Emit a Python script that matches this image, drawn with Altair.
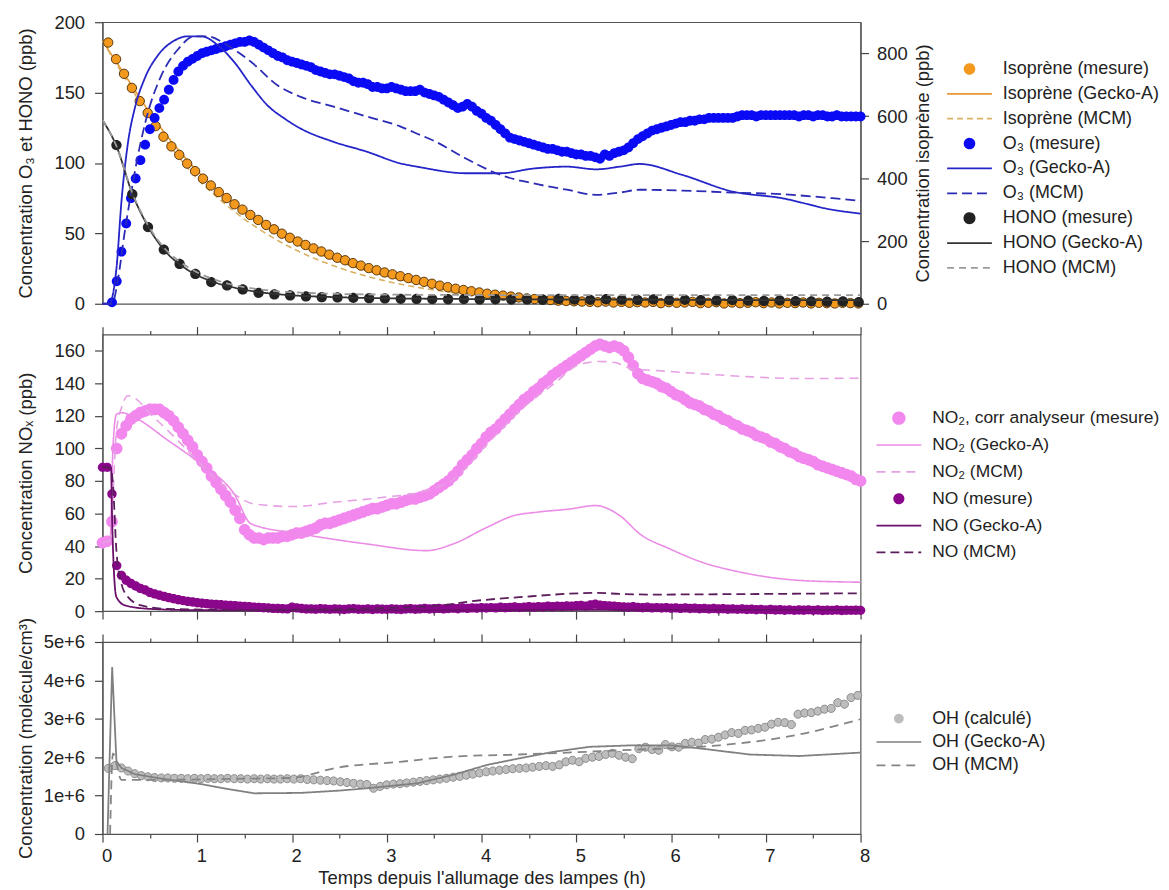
import altair as alt
import pandas as pd

FONT = "Liberation Sans"

# ---------------- time axis ticks ----------------
MAJOR_TICKS = [0, 1, 2, 3, 4, 5, 6, 7, 8]
MINOR_TICKS = [0.5, 1.5, 2.5, 3.5, 4.5, 5.5, 6.5, 7.5]

# ---------------- panel 1 : isoprene (right axis, ppb) ----------------
ISO_MEAS_T = [round(0.06 + k / 12, 3) for k in range(96)]
ISO_MEAS_V = [835, 782, 735, 690, 648, 610, 568, 534, 503, 476,
              448, 424, 400, 378, 357, 338, 318, 301, 284, 268,
              252, 238, 224, 211, 199, 188, 177, 167, 157, 147,
              139, 130, 122, 114, 107, 100, 94, 88, 82, 76,
              70, 64, 58, 53, 48, 44, 40, 36, 32, 29,
              26, 23, 20, 17, 15, 13, 12, 10, 9, 8,
              7, 6, 5, 7, 4, 6, 3, 5, 4, 6,
              2, 5, 3, 4, 6, 2, 3, 5, 1, 4,
              2, 3, 5, 2, 4, 1, 3, 2, 4, 1,
              3, 2, 1, 3, 2, 1]
ISO_MODEL_T = [0, 0.25, 0.5, 0.75, 1, 1.25, 1.5, 1.75, 2, 2.5, 3, 3.5, 4, 4.5, 5, 6, 7, 8]
ISO_GECKO_V = [840, 725, 610, 510, 425, 355, 295, 245, 200, 135, 88, 55, 32, 18, 10, 4, 2, 1]
ISO_MCM_V = [840, 715, 595, 490, 400, 330, 270, 220, 178, 115, 72, 44, 26, 14, 8, 3, 1, 0.5]

# ---------------- panel 1 : O3 and HONO (left axis, ppb) ----------------
O3_MEAS_T = [round(0.10 + 0.05 * k, 2) for k in range(159)]
O3_MEAS_V = [1, 16, 37, 57, 75, 89, 102, 113, 124, 132,
             139, 145, 152, 159, 165, 169, 172, 174, 176, 178,
             179, 180, 181, 182, 183, 184, 185, 186, 186, 187,
             186, 184, 182, 180, 178, 176, 175, 173, 172, 171,
             170, 169, 168, 166, 165, 164, 163, 163, 162, 161,
             160, 158, 157, 157, 156, 154, 154, 153, 153, 154,
             153, 152, 151, 151, 151, 152, 150, 149, 148, 147,
             145, 143, 141, 139, 140, 142, 140, 137, 135, 132,
             130, 127, 124, 121, 118, 117, 116, 115, 114, 113,
             112, 111, 110, 110, 109, 108, 108, 107, 106, 106,
             105, 105, 104, 103, 106, 105, 107, 108, 109, 111,
             114, 117, 119, 121, 123, 124, 125, 126, 127, 128,
             129, 129, 130, 130, 131, 131, 132, 132, 132, 132,
             132, 132, 133, 134, 134, 134, 133, 134, 134, 134,
             134, 134, 134, 134, 134, 133, 134, 134, 133, 134,
             134, 133, 133, 134, 133, 133, 133, 133, 133]
O3_GECKO_T = [0, 0.07, 0.147, 0.2, 0.27, 0.34, 0.445, 0.585, 0.76, 0.9,
              1.04, 1.22, 1.39, 1.57, 1.74, 1.92, 2.09, 2.44, 2.79, 3.14,
              3.35, 3.84, 4.2, 4.54, 4.9, 5.21, 5.46, 5.67, 6.12, 6.65,
              7.17, 7.7, 8.0]
O3_GECKO_V = [0, 0, 25, 72.7, 115, 138.7, 160, 176.5, 187, 190,
              190, 183.5, 171.7, 155, 141, 131.6, 124.5, 115, 108, 99.8,
              97, 92.7, 92.7, 96, 97.4, 95.5, 97.4, 99.3, 91.5, 79.7,
              75, 66.8, 64]
O3_MCM_T = [0, 0.1, 0.165, 0.23, 0.305, 0.375, 0.48, 0.62, 0.8, 0.97,
            1.11, 1.32, 1.57, 1.85, 2.09, 2.44, 2.79, 3.14, 3.35, 3.49,
            3.84, 4.2, 4.54, 4.9, 5.21, 5.46, 5.67, 6.12, 6.65, 7.17,
            7.7, 8.0]
O3_MCM_V = [0, 0, 18, 49, 80, 105.7, 136, 162, 181, 190,
            190, 183.5, 171.7, 155, 147, 140, 133, 126, 120, 116,
            103, 91.5, 85.6, 81, 77.4, 79, 81, 80.4, 79, 77.8,
            75, 73]
HONO_MEAS_T = [round(0.147 + k / 6, 3) for k in range(48)]
HONO_MEAS_V = [112.7, 77.8, 54.5, 38.5, 28.3, 21.2, 15.4, 13.0, 10.2, 7.8,
               6.6, 5.9, 5.2, 4.7, 4.5, 4.2, 4.0, 3.8,
               3.5, 3.4, 3.3, 3.2, 3.3, 3.1, 3.2, 3.0, 3.1, 2.9,
               3.4, 3.0, 2.8, 3.2, 2.9, 2.7, 3.1, 2.6, 2.8, 2.5,
               2.3, 2.6, 2.2, 2.0, 2.3, 1.9, 1.7, 1.5, 1.6, 1.2]
HONO_MODEL_T = [0, 0.147, 0.313, 0.48, 0.647, 0.813, 0.98, 1.147, 1.313, 1.48,
                1.647, 1.813, 2.0, 2.5, 3, 4, 5, 6, 7, 8]
HONO_GECKO_V = [130.5, 112, 78.5, 55, 38.5, 28, 21, 16, 12.7, 10.2,
                8.3, 7, 6, 4.6, 3.9, 3.3, 3, 2.8, 2.6, 2.5]
HONO_MCM_V = [130.5, 112, 79, 56, 40, 30, 23, 18, 14.5, 12,
              10.3, 9, 8.2, 7, 6.5, 6.2, 6.1, 6.1, 6.1, 6.1]

# ---------------- panel 2 : NOx (ppb) ----------------
NOX_MEAS_T = [round(0.05 * k, 2) for k in range(161)]
NO2_MEAS_V = [42, 43, 55, 100, 109, 114, 118, 120, 122, 123,
              124, 124, 124, 122, 120, 117, 113, 109, 105, 101,
              96, 92, 88, 83, 79, 75, 71, 67, 62, 57,
              50, 47, 45, 45, 44, 45, 45, 45, 46, 46,
              47, 48, 48, 49, 50, 51, 53, 54, 54, 55,
              56, 57, 58, 59, 60, 61, 62, 63, 63, 64,
              65, 66, 66, 67, 68, 69, 69, 70, 71, 72,
              74, 76, 78, 80, 83, 86, 90, 93, 96, 100,
              103, 107, 110, 112, 115, 118, 121, 124, 127, 130,
              132, 135, 137, 140, 142, 145, 147, 149, 151, 153,
              155, 157, 159, 161, 163, 164, 163, 162, 163, 162,
              160, 156, 151, 146, 143, 142, 141, 140, 138, 137,
              135, 133, 132, 130, 128, 127, 126, 124, 123, 121,
              120, 118, 117, 115, 114, 112, 111, 110, 108, 107,
              106, 104, 103, 101, 100, 98, 97, 95, 94, 93,
              92, 90, 89, 88, 87, 86, 85, 84, 83, 81,
              80]
NO_MEAS_V = [88.4, 88.4, 72, 28, 22, 19, 17, 15.5, 14, 13,
             11.5, 10.6, 9.8, 9, 8.3, 7.6, 7, 6.5, 6, 5.6,
             5.2, 4.9, 4.6, 4.3, 4.1, 3.9, 3.7, 3.5, 3.3, 3.1,
             2.9, 2.7, 2.5, 2.3, 2.1, 1.9, 1.7, 1.6, 1.5, 1.4,
             2.5, 2.0, 1.6, 1.3, 1.4, 1.2, 1.5, 1.3, 1.1, 1.4,
             1.2, 1.0, 1.3, 1.5, 1.2, 1.1, 1.4, 1.0, 1.3, 1.2,
             1.1, 1.4, 1.2, 1.0, 1.3, 1.5, 1.2, 1.4, 1.6, 1.3,
             1.5, 1.7, 1.4, 1.6, 1.8, 1.5, 1.9, 1.7, 2.0, 1.8,
             2.1, 1.9, 2.2, 2.0, 2.4, 2.1, 2.3, 2.6, 2.2, 2.5,
             2.7, 2.4, 2.8, 2.6, 3.0, 2.7, 3.1, 2.9, 3.2, 3.0,
             3.3, 3.5, 3.1, 3.8, 4.2, 3.6, 3.4, 3.2, 3.0, 2.8,
             2.6, 2.4, 2.7, 2.3, 2.1, 2.4, 2.0, 2.2, 1.9, 2.1,
             1.8, 2.0, 1.7, 1.9, 1.6, 1.8, 1.5, 1.7, 1.4, 1.6,
             1.3, 1.5, 1.2, 1.4, 1.1, 1.3, 1.0, 1.2, 0.9, 1.1,
             0.8, 1.0, 0.7, 0.9, 0.6, 0.8, 0.5, 0.7, 0.6, 0.8,
             0.5, 0.7, 0.4, 0.6, 0.5, 0.7, 0.4, 0.6, 0.5, 0.6,
             0.5]
NO2_GECKO_T = [0, 0.08, 0.11, 0.147, 0.2, 0.34, 0.69, 1.04, 1.39, 1.57,
               2.09, 2.79, 3.42, 3.7, 4.06, 4.34, 4.58, 4.93, 5.2, 5.46,
               5.67, 5.99, 6.33, 6.68, 7.03, 7.38, 8.0]
NO2_GECKO_V = [42, 44, 100, 121, 122, 119, 105, 90.4, 72, 53.6,
               47.5, 41.3, 37.2, 41.3, 51.6, 58.7, 60.8, 62.8, 64.9, 58.7,
               47.5, 38.2, 30, 24.6, 20.9, 18.8, 17.8]
NO2_MCM_T = [0, 0.09, 0.11, 0.147, 0.2, 0.27, 0.34, 0.51, 0.69, 0.9,
             1.18, 1.39, 1.6, 2.02, 2.44, 2.97, 3.42, 3.7, 4.06, 4.4,
             4.76, 5.04, 5.25, 5.41, 5.6, 5.81, 6.3, 6.85, 7.35, 8.0]
NO2_MCM_V = [42, 44, 70, 111, 125, 132.4, 131, 121, 111, 98.6,
             82, 72, 65.9, 64.3, 66.9, 70, 74, 81, 102.7, 123,
             139.5, 151.8, 153.5, 152.8, 148.7, 148, 146, 144, 143, 143.2]
NO_GECKO_T = [0, 0.09, 0.1, 0.12, 0.147, 0.24, 0.5, 1, 2, 3, 4, 5, 6, 7, 8]
NO_GECKO_V = [88.5, 88, 60, 25, 8.6, 3.5, 1.4, 0.6, 0.5, 0.5, 0.6, 0.8, 0.8, 0.8, 0.8]
NO_MCM_T = [0, 0.09, 0.11, 0.147, 0.2, 0.27, 0.41, 0.69, 1.5, 2.5,
            3, 3.56, 3.88, 4.4, 5.21, 5.46, 5.81, 6.5, 8]
NO_MCM_V = [88.5, 88, 78, 37, 16.8, 8.6, 3.5, 1.4, 0.8, 1.2,
            2, 3.5, 6, 8.6, 11.2, 10.6, 10.2, 10.4, 11]

# ---------------- panel 3 : OH (units of 1e6 molecule/cm3) ----------------
OH_MEAS_T = [round(0.06 + 0.07 * k, 2) for k in range(114)]
OH_MEAS_V = [1.71, 1.78, 1.72, 1.64, 1.57, 1.52, 1.49, 1.47, 1.46, 1.46,
             1.45, 1.45, 1.44, 1.45, 1.44, 1.45, 1.44, 1.44, 1.45, 1.44,
             1.44, 1.43, 1.44, 1.43, 1.44, 1.43, 1.43, 1.44, 1.43, 1.44,
             1.42, 1.41, 1.40, 1.39, 1.38, 1.36, 1.34, 1.32, 1.30, 1.29,
             1.19, 1.24, 1.28, 1.30, 1.31, 1.33, 1.35, 1.37, 1.39, 1.41,
             1.43, 1.45, 1.48, 1.50, 1.53, 1.56, 1.59, 1.62, 1.64, 1.66,
             1.68, 1.70, 1.71, 1.72, 1.74, 1.76, 1.78, 1.76, 1.80, 1.88,
             1.92, 1.88, 1.97, 2.00, 2.02, 2.07, 2.10, 2.05, 2.00, 1.96,
             2.22, 2.26, 2.20, 2.18, 2.33, 2.27, 2.26, 2.36, 2.39, 2.37,
             2.46, 2.47, 2.52, 2.58, 2.64, 2.62, 2.70, 2.71, 2.75, 2.78,
             2.86, 2.91, 2.90, 2.85, 3.12, 3.15, 3.16, 3.20, 3.25, 3.27,
             3.42, 3.38, 3.55, 3.61]
OH_GECKO_T = [0.053, 0.102, 0.147, 0.2, 0.34, 0.6, 1.04, 1.3, 1.6, 2.09,
              2.5, 2.79, 3.32, 3.7, 4.06, 4.4, 4.76, 5.14, 5.6, 5.99,
              6.3, 6.83, 7.35, 8.0]
OH_GECKO_V = [0, 4.35, 1.9, 1.72, 1.56, 1.45, 1.30, 1.18, 1.06, 1.07,
              1.13, 1.19, 1.32, 1.54, 1.8, 1.97, 2.14, 2.27, 2.31, 2.31,
              2.23, 2.07, 2.03, 2.12]
OH_MCM_T = [0.08, 0.11, 0.2, 0.5, 1.0, 1.5, 2.0, 2.09, 2.44, 3.14,
            3.67, 4.4, 5.46, 6.51, 7.35, 8.0]
OH_MCM_V = [0, 2.1, 1.41, 1.41, 1.42, 1.44, 1.46, 1.49, 1.71, 1.88,
            2.01, 2.07, 2.18, 2.31, 2.59, 2.99]

# ---------------- series names / styles ----------------
P1_NAMES = ["Isoprène (mesure)", "Isoprène (Gecko-A)", "Isoprène (MCM)",
            "O₃ (mesure)", "O₃ (Gecko-A)", "O₃ (MCM)",
            "HONO (mesure)", "HONO (Gecko-A)", "HONO (MCM)"]
P1_COLORS = ["#F39A1E", "#E8962E", "#D9B062",
             "#0A0AF5", "#2424C8", "#2B2BB5",
             "#222222", "#333333", "#9A9A9A"]
P2_NAMES = ["NO₂, corr analyseur (mesure)", "NO₂ (Gecko-A)", "NO₂ (MCM)",
            "NO (mesure)", "NO (Gecko-A)", "NO (MCM)"]
P2_COLORS = ["#F287EE", "#EA8CE6", "#E6A0E3",
             "#8A068A", "#6A106A", "#5C1D5C"]
P3_NAMES = ["OH (calculé)", "OH (Gecko-A)", "OH (MCM)"]
P3_COLORS = ["#BDBDBD", "#808080", "#858585"]


def circ(r):
    return f"M{-r},0A{r},{r} 0 1,0 {r},0A{r},{r} 0 1,0 {-r},0Z"


SOLID = [1, 0]
P1_SHAPES = [circ(0.22), "stroke", "stroke", circ(0.22), "stroke", "stroke", circ(0.23), "stroke", "stroke"]
P1_DASH = [SOLID, SOLID, [6, 4], SOLID, SOLID, [10, 5], SOLID, SOLID, [7, 5]]
P2_SHAPES = [circ(0.26), "stroke", "stroke", circ(0.21), "stroke", "stroke"]
P2_DASH = [SOLID, SOLID, [9, 6], SOLID, SOLID, [9, 5]]
P3_SHAPES = [circ(0.18), "stroke", "stroke"]
P3_DASH = [SOLID, SOLID, [9, 6]]

LABEL_SIZE = 18.5
TITLE_SIZE = 18.5


def frame(t, v, name):
    return pd.DataFrame({"t": t, "v": v, "series": name})


# ---------------- helpers ----------------
def legend(x, y, row_pad, font_size):
    return alt.Legend(orient="none", legendX=x, legendY=y, title=None,
                      direction="vertical", columns=1, padding=0,
                      labelFont=FONT, labelFontSize=font_size, labelColor="#222",
                      labelLimit=400, labelOffset=10, symbolSize=2025,
                      symbolStrokeWidth=1.7, symbolOpacity=1,
                      clipHeight=20, rowPadding=row_pad)


def xenc(axis):
    return alt.X("t:Q", scale=alt.Scale(domain=[0, 8], nice=False, zero=False), axis=axis)


def xaxis(orient, minor=False, labels=False, title=None):
    if minor:
        return alt.Axis(orient=orient, values=MINOR_TICKS, labels=False, ticks=True,
                        tickSize=4, domain=False, grid=False, title=None)
    kw = dict(orient=orient, values=MAJOR_TICKS, labels=labels, ticks=True,
              tickSize=8, domain=False, grid=False, title=title)
    if labels:
        kw.update(format="d", labelPadding=5, labelFlush=False, labelOffset=4,
                  titlePadding=3)
    return alt.Axis(**kw)


def yaxis_left(values, title, label_expr=None):
    kw = dict(orient="left", values=values, title=title, tickSize=8, labelPadding=10,
              titlePadding=7, minExtent=60, grid=False, domain=True)
    if label_expr:
        kw["labelExpr"] = label_expr
    return alt.Axis(**kw)


def series_channels(names, colors, shapes, dashes, leg):
    color = alt.Color("series:N", scale=alt.Scale(domain=names, range=colors), legend=leg)
    shape = alt.Shape("series:N", scale=alt.Scale(domain=names, range=shapes), legend=leg)
    dash = alt.StrokeDash("series:N", scale=alt.Scale(domain=names, range=dashes), legend=leg)
    return color, shape, dash


W = 762

# ---------------- panel 1 ----------------
leg1 = legend(848, 37, 5, 18)
c1, s1, d1 = series_channels(P1_NAMES, P1_COLORS, P1_SHAPES, P1_DASH, leg1)

iso_lines = pd.concat([frame(ISO_MODEL_T, ISO_GECKO_V, P1_NAMES[1]),
                       frame(ISO_MODEL_T, ISO_MCM_V, P1_NAMES[2])])
iso_pts = frame(ISO_MEAS_T, ISO_MEAS_V, P1_NAMES[0])
left_lines = pd.concat([frame(O3_GECKO_T, O3_GECKO_V, P1_NAMES[4]),
                        frame(O3_MCM_T, O3_MCM_V, P1_NAMES[5]),
                        frame(HONO_MODEL_T, HONO_GECKO_V, P1_NAMES[7]),
                        frame(HONO_MODEL_T, HONO_MCM_V, P1_NAMES[8])])
left_pts = pd.concat([frame(O3_MEAS_T, O3_MEAS_V, P1_NAMES[3]),
                      frame(HONO_MEAS_T, HONO_MEAS_V, P1_NAMES[6])])

Y_LEFT1 = alt.Y("v:Q", scale=alt.Scale(domain=[0, 200], nice=False),
                axis=yaxis_left([0, 50, 100, 150, 200], "Concentration O₃ et HONO (ppb)"))
Y_RIGHT1 = alt.Y("v:Q", scale=alt.Scale(domain=[0, 900], nice=False),
                 axis=alt.Axis(orient="right", values=[0, 200, 400, 600, 800],
                               title="Concentration isoprène (ppb)", tickSize=8,
                               labelPadding=8, titlePadding=6, titleAngle=270,
                               titleBaseline="top", grid=False, domain=True))

r_pts = alt.Chart(iso_pts).mark_point(
    filled=True, fill="#F39A1E", stroke="#4A2C08", strokeWidth=0.9,
    size=2025, opacity=1, shape=circ(0.21)
).encode(x=xenc(None), y=Y_RIGHT1)

r_lines = alt.Chart(iso_lines).mark_line(strokeWidth=1.6, interpolate="monotone").encode(
    x=xenc(xaxis("bottom", minor=True)), y=Y_RIGHT1, color=c1, strokeDash=d1)

l_pts = alt.Chart(left_pts).mark_point(filled=True, size=2025, opacity=1).encode(
    x=xenc(None), y=Y_LEFT1, color=c1, shape=s1)

l_lines = alt.Chart(left_lines).mark_line(strokeWidth=1.8, interpolate="monotone").encode(
    x=xenc(xaxis("bottom")), y=Y_LEFT1, color=c1, strokeDash=d1)

right_grp = alt.layer(r_lines, r_pts)
left_grp = alt.layer(l_pts, l_lines)
panel1 = alt.layer(right_grp, left_grp).resolve_scale(y="independent").resolve_axis(
    x="independent").properties(width=W, height=283)

# ---------------- panel 2 ----------------
leg2 = legend(777, 74, 7, 17.5)
c2, s2, d2 = series_channels(P2_NAMES, P2_COLORS, P2_SHAPES, P2_DASH, leg2)
Y2 = alt.Y("v:Q", scale=alt.Scale(domain=[0, 170], nice=False),
           axis=yaxis_left([0, 20, 40, 60, 80, 100, 120, 140, 160], "Concentration NOₓ (ppb)"))

no2_pts = frame(NOX_MEAS_T, NO2_MEAS_V, P2_NAMES[0])
no_pts = frame(NOX_MEAS_T, NO_MEAS_V, P2_NAMES[3])
no2_lines = pd.concat([frame(NO2_GECKO_T, NO2_GECKO_V, P2_NAMES[1]),
                       frame(NO2_MCM_T, NO2_MCM_V, P2_NAMES[2])])
no_lines = pd.concat([frame(NO_GECKO_T, NO_GECKO_V, P2_NAMES[4]),
                      frame(NO_MCM_T, NO_MCM_V, P2_NAMES[5])])

p2_a = alt.Chart(no2_pts).mark_point(filled=True, size=2025, opacity=1).encode(
    x=xenc(xaxis("top")), y=Y2, color=c2, shape=s2)
p2_b = alt.Chart(no_pts).mark_point(filled=True, size=2025, opacity=1).encode(
    x=xenc(xaxis("top", minor=True)), y=Y2, color=c2, shape=s2)
p2_c = alt.Chart(no2_lines).mark_line(strokeWidth=1.6, interpolate="monotone").encode(
    x=xenc(xaxis("bottom")), y=Y2, color=c2, strokeDash=d2)
p2_d = alt.Chart(no_lines).mark_line(strokeWidth=1.8, interpolate="monotone").encode(
    x=xenc(xaxis("bottom", minor=True)), y=Y2, color=c2, strokeDash=d2)
panel2 = alt.layer(p2_a, p2_b, p2_c, p2_d).resolve_axis(x="independent").properties(
    width=W, height=278)

# ---------------- panel 3 ----------------
leg3 = legend(777, 67, 3.5, 18)
c3, s3, d3 = series_channels(P3_NAMES, P3_COLORS, P3_SHAPES, P3_DASH, leg3)
Y3 = alt.Y("v:Q", scale=alt.Scale(domain=[0, 5], nice=False),
           axis=yaxis_left([0, 1, 2, 3, 4, 5], "Concentration (molécule/cm³)",
                           "datum.value == 0 ? '0' : datum.value + 'e+6'"))

oh_pts = frame(OH_MEAS_T, OH_MEAS_V, P3_NAMES[0])
oh_gecko = frame(OH_GECKO_T, OH_GECKO_V, P3_NAMES[1])
oh_mcm = frame(OH_MCM_T, OH_MCM_V, P3_NAMES[2])

pt_mark = dict(filled=True, size=2025, opacity=1, stroke="#8A8A8A", strokeWidth=1)
p3_a = alt.Chart(oh_pts).transform_filter("datum.t < 4").mark_point(**pt_mark).encode(
    x=xenc(xaxis("bottom", labels=True, title="Temps depuis l'allumage des lampes (h)")),
    y=Y3, color=c3, shape=s3)
p3_b = alt.Chart(oh_pts).transform_filter("datum.t >= 4").mark_point(**pt_mark).encode(
    x=xenc(xaxis("bottom", minor=True)), y=Y3, color=c3, shape=s3)
p3_c = alt.Chart(oh_gecko).mark_line(strokeWidth=1.8).encode(
    x=xenc(xaxis("top")), y=Y3, color=c3, strokeDash=d3)
p3_d = alt.Chart(oh_mcm).mark_line(strokeWidth=1.8, interpolate="monotone").encode(
    x=xenc(xaxis("top", minor=True)), y=Y3, color=c3, strokeDash=d3)
panel3 = alt.layer(p3_a, p3_b, p3_c, p3_d).resolve_axis(x="independent").properties(
    width=W, height=193)

chart = alt.vconcat(panel1, panel2, panel3, spacing=31, bounds="flush").resolve_scale(
    color="independent", shape="independent", strokeDash="independent"
).properties(
    padding={"left": 8, "top": 2, "right": 0, "bottom": 0}
).configure_view(
    stroke="#555555", strokeWidth=1.2
).configure_axis(
    labelFont=FONT, titleFont=FONT, labelFontSize=LABEL_SIZE, titleFontSize=TITLE_SIZE,
    titleFontWeight="normal", labelColor="#222222", titleColor="#222222",
    tickColor="#444444", domainColor="#555555", tickWidth=1.2, domainWidth=1.2,
    grid=False
)

chart.save("out.html", embed_options={"renderer": "svg", "actions": False})
